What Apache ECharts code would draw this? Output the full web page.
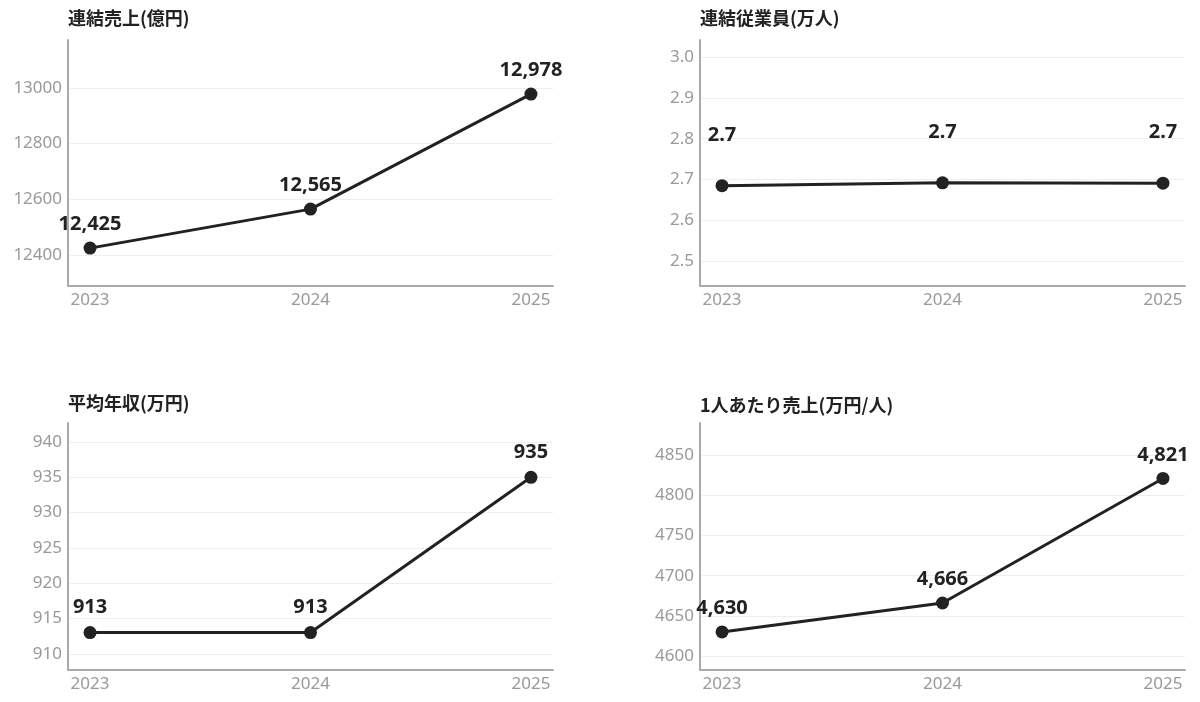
<!DOCTYPE html>
<html>
<head>
<meta charset="utf-8">
<script src="https://cdn.jsdelivr.net/npm/echarts@6/dist/echarts.min.js"></script>
<style>
  html, body { margin: 0; padding: 0; background: #fff; }
  #main { width: 1200px; height: 702px; }
</style>
</head>
<body>
<div id="main"></div>
<script>
// 年度
var years = [2023, 2024, 2025];

// 各指標の値
var sales = [12425, 12565, 12978];          // 連結売上(億円)
var employees = [2.685, 2.692, 2.691];      // 連結従業員(万人)
var salary = [913, 913, 935];               // 平均年収(万円)
var salesPerHead = [4630, 4666, 4821];      // 1人あたり売上(万円/人)

// 目盛ラベル
var salesTicks = [12400, 12600, 12800, 13000];
var employeeTicks = [2.5, 2.6, 2.7, 2.8, 2.9, 3.0];
var salaryTicks = [910, 915, 920, 925, 930, 935, 940];
var perHeadTicks = [4600, 4650, 4700, 4750, 4800, 4850];

var titles = ['連結売上(億円)', '連結従業員(万人)', '平均年収(万円)', '1人あたり売上(万円/人)'];

var font = '"Noto Sans CJK JP", "Noto Sans", sans-serif';
var numFont = '"Noto Sans", "Noto Sans CJK JP", sans-serif';

var panels = [
  { values: sales, ticks: salesTicks, min: 12289, max: 13172, dist: 7,
    fmt: function (v) { return v.toLocaleString('en-US'); } },
  { values: employees, ticks: employeeTicks, min: 2.439, max: 3.042, dist: 34,
    fmt: function (v) { return v.toFixed(1); }, tickFmt: function (v) { return v.toFixed(1); } },
  { values: salary, ticks: salaryTicks, min: 907.7, max: 942.7, dist: 9,
    fmt: function (v) { return String(v); } },
  { values: salesPerHead, ticks: perHeadTicks, min: 4582.6, max: 4890, dist: 7,
    fmt: function (v) { return v.toLocaleString('en-US'); } }
];

var gridPos = [
  { left: 68, top: 40, width: 485, height: 246 },
  { left: 700, top: 40, width: 485, height: 246 },
  { left: 68, top: 423, width: 485, height: 247 },
  { left: 700, top: 423, width: 485, height: 247 }
];

var titlePos = [
  { left: 68, top: 9 },
  { left: 700, top: 9 },
  { left: 68, top: 394 },
  { left: 700, top: 396 }
];

var option = {
  backgroundColor: '#fff',
  animation: false,
  title: titles.map(function (t, i) {
    return {
      text: t,
      left: titlePos[i].left,
      top: titlePos[i].top,
      padding: 0,
      textStyle: { fontFamily: font, fontSize: 18, fontWeight: 'bold', color: '#222' }
    };
  }),
  grid: gridPos,
  xAxis: panels.map(function (p, i) {
    return {
      type: 'value',
      gridIndex: i,
      min: 2022.9,
      max: 2025.1,
      axisLine: { show: true, lineStyle: { color: '#aaa', width: 2 } },
      axisTick: { show: false, customValues: years },
      splitLine: { show: false },
      axisLabel: {
        customValues: years,
        color: '#999',
        fontFamily: numFont,
        fontSize: 17,
        margin: 6,
        formatter: function (v) { return String(v); }
      }
    };
  }),
  yAxis: panels.map(function (p, i) {
    return {
      type: 'value',
      gridIndex: i,
      min: p.min,
      max: p.max,
      axisLine: { show: true, lineStyle: { color: '#aaa', width: 2 } },
      axisTick: { show: false, customValues: p.ticks },
      splitLine: { show: true, lineStyle: { color: '#eeeeee', width: 1 } },
      axisLabel: {
        customValues: p.ticks,
        color: '#999',
        fontFamily: numFont,
        fontSize: 17,
        margin: 6,
        formatter: p.tickFmt || function (v) { return String(v); }
      }
    };
  }),
  series: panels.map(function (p, i) {
    return {
      type: 'line',
      xAxisIndex: i,
      yAxisIndex: i,
      data: years.map(function (y, k) { return [y, p.values[k]]; }),
      symbol: 'circle',
      symbolSize: 13,
      lineStyle: { color: '#222', width: 3 },
      itemStyle: { color: '#222' },
      label: {
        show: true,
        position: 'top',
        distance: p.dist,
        color: '#222',
        fontFamily: numFont,
        fontSize: 20,
        fontWeight: 'bold',
        formatter: function (d) { return p.fmt(d.value[1]); }
      }
    };
  })
};

var myChart = echarts.init(document.getElementById('main'));
myChart.setOption(option);
window.addEventListener('resize', function () {
  myChart.resize();
});
</script>
</body>
</html>
